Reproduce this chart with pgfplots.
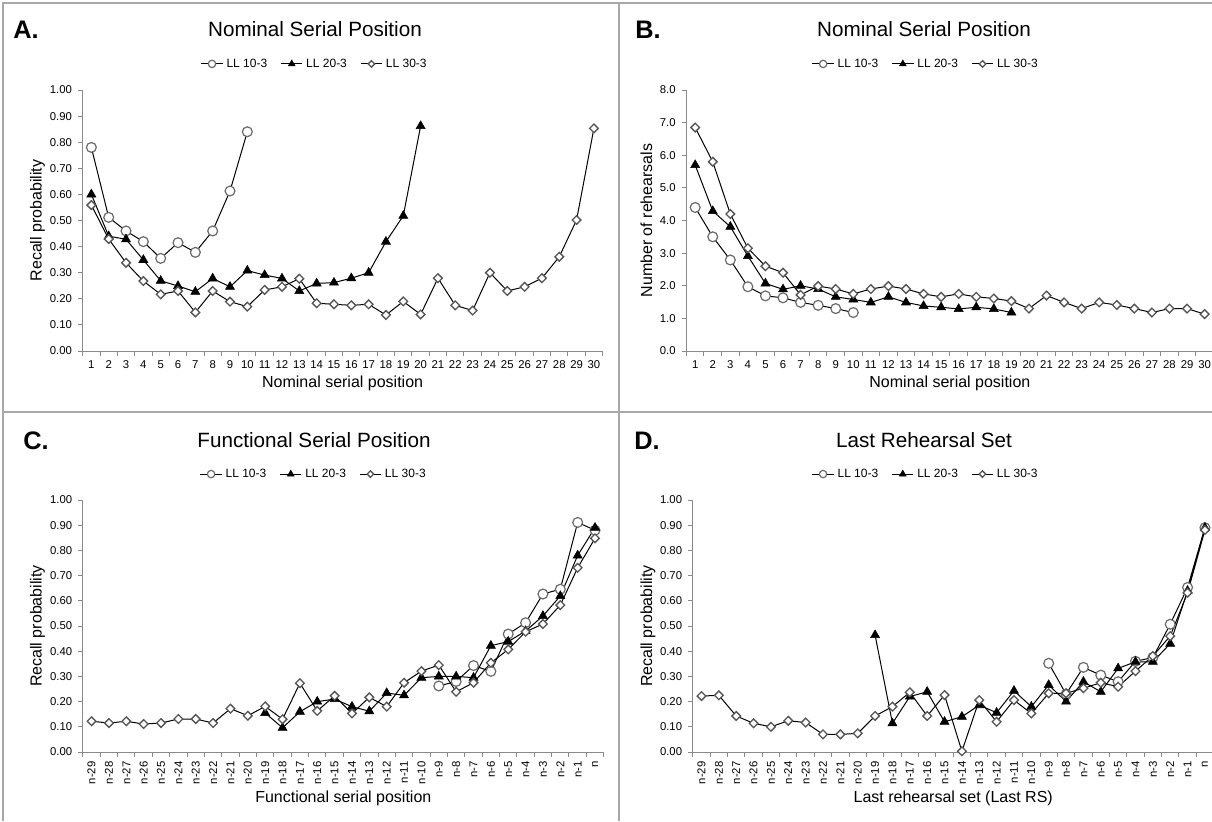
\documentclass[border=0pt]{standalone}
\usepackage{fontspec}
\setmainfont{Liberation Sans}
\usepackage{pgfplots}
\pgfplotsset{compat=1.18}

\definecolor{axgray}{HTML}{8A8A8A}
\definecolor{framegray}{HTML}{A8A8A8}
\definecolor{mkgray}{HTML}{6A6A6A}
\definecolor{dmgray}{HTML}{555555}

\pgfplotsset{
  panel/.style={
    scale only axis,
    axis x line*=bottom, axis y line*=left,
    axis line style={draw=axgray, line width=0.75pt, -},
    tick align=outside,
    tick style={draw=axgray, line width=0.75pt},
    major tick length=3.5pt, minor tick length=3.5pt,
    xmin=0.5, xmax=30.5,
    xtick={1,...,30},
    major x tick style={draw=none},
    minor xtick={0.5,1.5,...,30.5},
    minor x tick style={draw=axgray},
    tick label style={font=\fontsize{8.5}{10}\selectfont},
    yticklabel style={xshift=-1pt},
    label style={font=\fontsize{12}{14}\selectfont},
    legend columns=3,
    legend style={draw=none, fill=none, anchor=center,
      font=\fontsize{9}{11}\selectfont,
      /tikz/every even column/.append style={column sep=8pt},
      /tikz/every odd column/.append style={column sep=0.5pt},
      inner sep=0pt},
    legend image code/.code={%
      \draw[mark repeat=2, mark phase=2, /tikz/every mark/.append style={scale=0.75}]
        plot coordinates {(0pt,0pt) (8pt,0pt) (16pt,0pt)};},
    every axis plot/.append style={black, line width=0.75pt},
  },
  prob/.style={ymin=0, ymax=1,
    ytick={0,0.1,0.2,0.3,0.4,0.5,0.6,0.7,0.8,0.9,1},
    yticklabels={0.00,0.10,0.20,0.30,0.40,0.50,0.60,0.70,0.80,0.90,1.00}},
  nums/.style={xticklabels={1,2,3,4,5,6,7,8,9,10,11,12,13,14,15,16,17,18,19,20,21,22,23,24,25,26,27,28,29,30}},
  ns/.style={xticklabels={n-29,n-28,n-27,n-26,n-25,n-24,n-23,n-22,n-21,n-20,n-19,n-18,n-17,n-16,n-15,n-14,n-13,n-12,n-11,n-10,n-9,n-8,n-7,n-6,n-5,n-4,n-3,n-2,n-1,n},
    xticklabel style={rotate=90, anchor=east}},
  s10/.style={mark=*, mark size=3.7pt, mark options={fill=white, draw=mkgray, line width=0.9pt}},
  s20/.style={mark=triangle*, mark size=3.9pt, mark options={fill=black, draw=black, line width=0.4pt}},
  s30/.style={mark=square*, mark size=2.3pt, mark options={rotate=45, fill=white, draw=dmgray, line width=1pt}},
}

\begin{document}
\begin{tikzpicture}
\useasboundingbox (0,0) rectangle (909pt,-615.75pt);

% panel frame
\draw[framegray, line width=1.3pt] (2.25pt,-615.75pt) -- (2.25pt,-2.25pt) -- (909pt,-2.25pt);
\draw[framegray, line width=1pt] (464.25pt,-2.25pt) -- (464.25pt,-615.75pt);
\draw[framegray, line width=1.5pt] (2.25pt,-309pt) -- (909pt,-309pt);

% ---------------- A ----------------
\begin{axis}[panel, prob, nums,
  at={(62.03pt,-263.25pt)}, anchor=south west,
  width=389.9pt, height=195.75pt,
  xlabel={Nominal serial position}, ylabel={Recall probability},
  xlabel style={at={(axis description cs:0.5,-0.123)}, anchor=center},
  ylabel style={at={(axis description cs:-0.087,0.5)}, anchor=center},
  legend style={at={(axis description cs:0.447,1.10)}},
]
\addplot[s10] coordinates {(1,0.78)(2,0.512)(3,0.46)(4,0.419)(5,0.355)(6,0.415)(7,0.378)(8,0.46)(9,0.613)(10,0.84)};
\addplot[s20] coordinates {(1,0.60)(2,0.44)(3,0.428)(4,0.349)(5,0.269)(6,0.249)(7,0.227)(8,0.278)(9,0.246)(10,0.308)(11,0.291)(12,0.278)(13,0.23)(14,0.259)(15,0.262)(16,0.279)(17,0.30)(18,0.419)(19,0.518)(20,0.862)};
\addplot[s30] coordinates {(1,0.559)(2,0.429)(3,0.338)(4,0.268)(5,0.217)(6,0.23)(7,0.148)(8,0.23)(9,0.189)(10,0.17)(11,0.234)(12,0.246)(13,0.277)(14,0.183)(15,0.179)(16,0.175)(17,0.179)(18,0.138)(19,0.19)(20,0.14)(21,0.279)(22,0.175)(23,0.155)(24,0.30)(25,0.23)(26,0.246)(27,0.279)(28,0.361)(29,0.502)(30,0.853)};
\legend{LL 10-3, LL 20-3, LL 30-3}
\end{axis}

% ---------------- B ----------------
\begin{axis}[panel, nums,
  at={(514.8pt,-263.25pt)}, anchor=south west,
  width=395.25pt, height=195.75pt,
  ymin=0, ymax=8, ytick={0,1,2,3,4,5,6,7,8},
  yticklabels={0.0,1.0,2.0,3.0,4.0,5.0,6.0,7.0,8.0},
  xlabel={Nominal serial position}, ylabel={Number of rehearsals},
  xlabel style={at={(axis description cs:0.5,-0.123)}, anchor=center},
  ylabel style={at={(axis description cs:-0.076,0.5)}, anchor=center},
  legend style={at={(axis description cs:0.455,1.10)}},
]
\addplot[s10] coordinates {(1,4.40)(2,3.50)(3,2.79)(4,1.97)(5,1.69)(6,1.63)(7,1.49)(8,1.40)(9,1.30)(10,1.18)};
\addplot[s20] coordinates {(1,5.70)(2,4.29)(3,3.81)(4,2.91)(5,2.07)(6,1.89)(7,2.0)(8,1.9)(9,1.66)(10,1.58)(11,1.49)(12,1.66)(13,1.49)(14,1.38)(15,1.34)(16,1.29)(17,1.34)(18,1.29)(19,1.18)};
\addplot[s30] coordinates {(1,6.85)(2,5.80)(3,4.20)(4,3.15)(5,2.60)(6,2.40)(7,1.72)(8,1.99)(9,1.90)(10,1.75)(11,1.90)(12,1.99)(13,1.90)(14,1.75)(15,1.66)(16,1.75)(17,1.66)(18,1.61)(19,1.53)(20,1.30)(21,1.70)(22,1.49)(23,1.30)(24,1.49)(25,1.41)(26,1.30)(27,1.18)(28,1.30)(29,1.30)(30,1.13)};
\legend{LL 10-3, LL 20-3, LL 30-3}
\end{axis}

% ---------------- C ----------------
\begin{axis}[panel, prob, ns,
  at={(62.18pt,-564pt)}, anchor=south west,
  width=390.6pt, height=189pt,
  xlabel={Functional serial position}, ylabel={Recall probability},
  xlabel style={at={(axis description cs:0.5,-0.183)}, anchor=center},
  ylabel style={at={(axis description cs:-0.087,0.5)}, anchor=center},
  legend style={at={(axis description cs:0.444,1.103)}},
]
\addplot[s10] coordinates {(21,0.262)(22,0.28)(23,0.343)(24,0.32)(25,0.468)(26,0.513)(27,0.627)(28,0.646)(29,0.911)(30,0.88)};
\addplot[s20] coordinates {(11,0.155)(12,0.096)(13,0.16)(14,0.20)(15,0.21)(16,0.18)(17,0.162)(18,0.234)(19,0.225)(20,0.295)(21,0.30)(22,0.30)(23,0.295)(24,0.422)(25,0.438)(26,0.48)(27,0.54)(28,0.619)(29,0.78)(30,0.89)};
\addplot[s30] coordinates {(1,0.122)(2,0.115)(3,0.122)(4,0.111)(5,0.115)(6,0.131)(7,0.131)(8,0.115)(9,0.172)(10,0.144)(11,0.181)(12,0.13)(13,0.273)(14,0.163)(15,0.223)(16,0.153)(17,0.217)(18,0.18)(19,0.275)(20,0.321)(21,0.345)(22,0.239)(23,0.275)(24,0.354)(25,0.407)(26,0.477)(27,0.508)(28,0.583)(29,0.731)(30,0.848)};
\legend{LL 10-3, LL 20-3, LL 30-3}
\end{axis}

% ---------------- D ----------------
\begin{axis}[panel, prob, ns,
  at={(519.6pt,-564pt)}, anchor=south west,
  width=390.6pt, height=189pt,
  xlabel={Last rehearsal set (Last RS)}, ylabel={Recall probability},
  xlabel style={at={(axis description cs:0.5,-0.183)}, anchor=center},
  ylabel style={at={(axis description cs:-0.086,0.5)}, anchor=center},
  legend style={at={(axis description cs:0.448,1.103)}},
]
\addplot[s10] coordinates {(21,0.352)(22,0.23)(23,0.336)(24,0.305)(25,0.279)(26,0.36)(27,0.375)(28,0.507)(29,0.653)(30,0.89)};
\addplot[s20] coordinates {(11,0.464)(12,0.114)(13,0.22)(14,0.239)(15,0.12)(16,0.14)(17,0.186)(18,0.156)(19,0.243)(20,0.18)(21,0.266)(22,0.20)(23,0.279)(24,0.239)(25,0.332)(26,0.358)(27,0.358)(28,0.43)(29,0.64)(30,0.89)};
\addplot[s30] coordinates {(1,0.222)(2,0.225)(3,0.143)(4,0.114)(5,0.10)(6,0.124)(7,0.117)(8,0.07)(9,0.07)(10,0.074)(11,0.143)(12,0.18)(13,0.237)(14,0.143)(15,0.226)(16,0.003)(17,0.206)(18,0.12)(19,0.206)(20,0.153)(21,0.233)(22,0.233)(23,0.253)(24,0.275)(25,0.259)(26,0.321)(27,0.381)(28,0.46)(29,0.632)(30,0.881)};
\legend{LL 10-3, LL 20-3, LL 30-3}
\end{axis}

% titles and panel letters
\node[font=\fontsize{15.5}{18}\selectfont] at (236.25pt,-21.75pt) {Nominal Serial Position};
\node[font=\fontsize{15.5}{18}\selectfont] at (693pt,-21.75pt) {Nominal Serial Position};
\node[font=\fontsize{15.5}{18}\selectfont] at (235.5pt,-330pt) {Functional Serial Position};
\node[font=\fontsize{15.5}{18}\selectfont] at (693pt,-330pt) {Last Rehearsal Set};
\node[font=\fontsize{19}{22}\selectfont\bfseries, anchor=west, inner sep=0pt] at (9.75pt,-22.5pt) {A.};
\node[font=\fontsize{19}{22}\selectfont\bfseries, anchor=west, inner sep=0pt] at (476.25pt,-22.5pt) {B.};
\node[font=\fontsize{19}{22}\selectfont\bfseries, anchor=west, inner sep=0pt] at (17.25pt,-330.75pt) {C.};
\node[font=\fontsize{19}{22}\selectfont\bfseries, anchor=west, inner sep=0pt] at (475.5pt,-330.75pt) {D.};
\end{tikzpicture}
\end{document}
